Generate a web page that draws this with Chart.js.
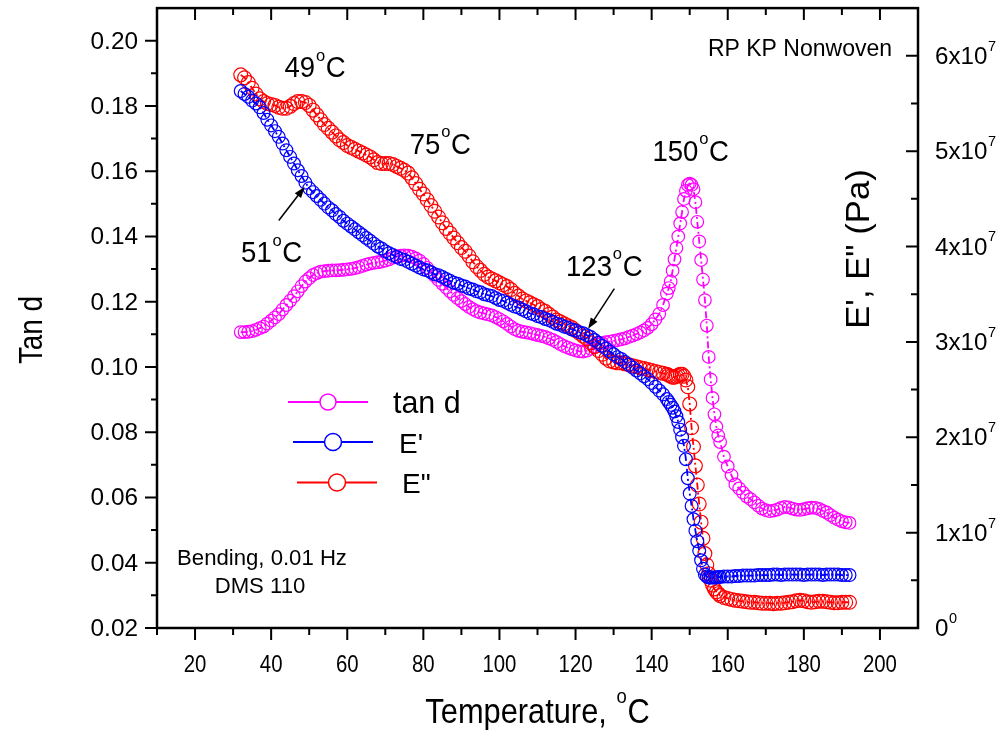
<!DOCTYPE html>
<html>
<head>
<meta charset="utf-8">
<script src="https://cdn.jsdelivr.net/npm/chart.js@4.4.0/dist/chart.umd.min.js"></script>
<style>
  html, body { margin: 0; padding: 0; background: #fff; }
  #c { display: block; }
</style>
</head>
<body>
<canvas id="c" width="1000" height="736"></canvas>
<script>
'use strict';

// temperatures (deg C): 1 deg steps, 0.5 deg steps through the transition
const temps = [
  32,33,34,35,36,37,38,39,40,41, 42,43,44,45,46,47,48,49,50,51,
  52,53,54,55,56,57,58,59,60,61, 62,63,64,65,66,67,68,69,70,71,
  72,73,74,75,76,77,78,79,80,81, 82,83,84,85,86,87,88,89,90,91,
  92,93,94,95,96,97,98,99,100,101, 102,103,104,105,106,107,108,109,110,111,
  112,113,114,115,116,117,118,119,120,121, 122,123,124,125,126,127,128,129,130,131,
  132,133,134,135,136,137,138,139,140,141, 142,143,144,
  144.5,145,145.5,146,146.5,147,147.5,148,148.5,149,
  149.5,150,150.5,151,151.5,152,152.5,153,153.5,154,
  154.5,155,155.5,156,156.5,157,157.5,158,
  159,160,161,162,163,164,165,166,167,168, 169,170,171,172,173,174,175,176,177,178,
  179,180,181,182,183,184,185,186,187,188, 189,190,191,192
];

const tanD = [
  0.1107,0.1107,0.1108,0.1110,0.1114,0.1119,0.1124,0.1133,0.1142,0.1152,
  0.1162,0.1176,0.1190,0.1203,0.1217,0.1232,0.1248,0.1262,0.1272,0.1282,
  0.1288,0.1292,0.1294,0.1295,0.1296,0.1296,0.1297,0.1298,0.1299,0.1301,
  0.1303,0.1306,0.1310,0.1314,0.1317,0.1319,0.1321,0.1323,0.1326,0.1330,
  0.1335,0.1339,0.1341,0.1342,0.1341,0.1338,0.1333,0.1326,0.1316,0.1304,
  0.1291,0.1279,0.1267,0.1255,0.1243,0.1232,0.1221,0.1211,0.1202,0.1193,
  0.1184,0.1177,0.1171,0.1167,0.1164,0.1161,0.1158,0.1153,0.1147,0.1140,
  0.1132,0.1124,0.1116,0.1111,0.1108,0.1106,0.1104,0.1101,0.1098,0.1095,
  0.1092,0.1088,0.1083,0.1077,0.1070,0.1064,0.1059,0.1055,0.1051,0.1048,
  0.1047,0.1050,0.1056,0.1063,0.1069,0.1073,0.1076,0.1078,0.1080,0.1082,
  0.1085,0.1088,0.1092,0.1096,0.1101,0.1106,0.1112,0.1120,0.1131,0.1146,
  0.1163,0.1190,0.1225,
  0.1242,0.1262,0.1295,0.1330,0.1365,0.1400,0.1440,0.1475,0.1515,0.1540,
  0.1558,0.1562,0.1558,0.1545,0.1505,0.1445,0.1385,0.1328,0.1268,0.1205,
  0.1127,0.1031,0.0962,0.0905,0.0855,0.0817,0.0790,0.0770,
  0.0725,0.0695,0.0668,0.0640,0.0628,0.0615,0.0603,0.0595,0.0585,0.0575,
  0.0566,0.0561,0.0558,0.0560,0.0563,0.0568,0.0571,0.0570,0.0566,0.0563,
  0.0562,0.0564,0.0567,0.0569,0.0568,0.0565,0.0559,0.0554,0.0546,0.0538,
  0.0532,0.0527,0.0524,0.0522
];

// E' and E'' in units of 10^7 Pa
const eStorage = [
  5.63,5.60,5.57,5.53,5.50,5.46,5.40,5.33,5.27,5.21,
  5.15,5.08,5.01,4.94,4.87,4.80,4.74,4.67,4.61,4.57,
  4.53,4.49,4.45,4.41,4.38,4.34,4.31,4.27,4.24,4.21,
  4.18,4.15,4.12,4.09,4.06,4.03,4.00,3.98,3.95,3.93,
  3.91,3.89,3.87,3.86,3.84,3.82,3.80,3.78,3.76,3.75,
  3.73,3.71,3.70,3.68,3.66,3.64,3.62,3.61,3.59,3.58,
  3.56,3.55,3.53,3.52,3.50,3.49,3.48,3.46,3.44,3.43,
  3.41,3.39,3.37,3.36,3.34,3.32,3.30,3.29,3.27,3.26,
  3.24,3.23,3.21,3.19,3.18,3.16,3.15,3.13,3.12,3.10,
  3.09,3.07,3.05,3.02,2.99,2.96,2.93,2.90,2.87,2.84,
  2.82,2.79,2.76,2.73,2.70,2.67,2.64,2.61,2.57,2.53,
  2.49,2.45,2.40,
  2.37,2.34,2.31,2.27,2.22,2.16,2.08,2.00,1.91,1.77,
  1.57,1.41,1.28,1.14,1.02,0.91,0.81,0.71,0.62,0.56,
  0.54,0.53,0.53,0.53,0.53,0.53,0.535,0.535,
  0.54,0.54,0.54,0.545,0.545,0.55,0.55,0.55,0.55,0.555,
  0.555,0.555,0.555,0.56,0.56,0.555,0.56,0.56,0.56,0.56,
  0.56,0.555,0.56,0.56,0.56,0.56,0.555,0.56,0.56,0.56,
  0.56,0.555,0.555,0.555
];

const eLoss = [
  5.80,5.77,5.72,5.66,5.60,5.55,5.52,5.50,5.49,5.48,
  5.46,5.45,5.45,5.47,5.50,5.52,5.52,5.51,5.48,5.43,
  5.38,5.33,5.28,5.24,5.20,5.16,5.12,5.09,5.06,5.04,
  5.02,5.00,4.98,4.96,4.94,4.91,4.88,4.87,4.87,4.87,
  4.86,4.84,4.82,4.80,4.77,4.72,4.66,4.60,4.55,4.49,
  4.43,4.37,4.31,4.25,4.19,4.14,4.09,4.04,3.99,3.95,
  3.90,3.84,3.79,3.75,3.71,3.68,3.66,3.64,3.62,3.60,
  3.58,3.55,3.51,3.48,3.45,3.43,3.41,3.39,3.37,3.34,
  3.32,3.29,3.26,3.23,3.21,3.19,3.17,3.15,3.12,3.09,
  3.06,3.03,2.99,2.95,2.91,2.87,2.83,2.80,2.79,2.78,
  2.78,2.77,2.76,2.75,2.74,2.73,2.72,2.71,2.70,2.69,
  2.68,2.67,2.66,
  2.65,2.64,2.63,2.63,2.64,2.65,2.66,2.66,2.64,2.60,
  2.53,2.35,2.10,1.90,1.70,1.50,1.30,1.11,0.94,0.78,
  0.66,0.57,0.50,0.45,0.41,0.38,0.36,0.34,
  0.32,0.31,0.30,0.29,0.285,0.28,0.275,0.27,0.27,0.265,
  0.26,0.26,0.26,0.255,0.26,0.26,0.265,0.27,0.275,0.285,
  0.29,0.285,0.275,0.27,0.275,0.28,0.28,0.275,0.27,0.265,
  0.265,0.27,0.27,0.27
];

const xTicks = [20, 40, 60, 80, 100, 120, 140, 160, 180, 200];
const tanTicks = [0.02, 0.04, 0.06, 0.08, 0.10, 0.12, 0.14, 0.16, 0.18, 0.20];
const eTicks = [0, 1, 2, 3, 4, 5, 6];

// peak labels: [T, tan d, number]
const peakNotes = [[43.5, 0.1888, '49'], [76.4, 0.1654, '75'], [140.2, 0.1632, '150'],
                   [32.1, 0.1321, '51'], [117.5, 0.1280, '123']];
// arrows: [T1, tan1, T2, tan2] tail -> head
const arrows = [[42.0, 0.1449, 48.8, 0.1552], [130.2, 0.1240, 123.3, 0.1117]];

const FONT = '"Liberation Sans", Arial, Helvetica, sans-serif';
const MAGENTA = '#ff00ff', BLUE = '#0000ff', RED = '#ff0000';

const pts = vals => temps.map((t, i) => ({x: t, y: vals[i]}));

function rich(ctx, parts, x, y, size, align, sx) {
  sx = sx || 1;
  const sup = size * 0.6;
  const widths = parts.map(p => {
    ctx.font = (p[1] ? sup : size) + 'px ' + FONT;
    return ctx.measureText(p[0]).width * sx + (p[1] ? size * 0.05 : 0);
  });
  const total = widths.reduce((a, b) => a + b, 0);
  let cx = align === 'center' ? x - total / 2 : align === 'right' ? x - total : x;
  parts.forEach((p, i) => {
    ctx.save();
    ctx.font = (p[1] ? sup : size) + 'px ' + FONT;
    ctx.translate(cx + (p[1] ? size * 0.03 : 0), p[1] ? y - size * 0.57 : y);
    ctx.scale(sx, 1);
    ctx.textAlign = 'left';
    ctx.textBaseline = 'alphabetic';
    ctx.fillStyle = '#000';
    ctx.fillText(p[0], 0, 0);
    ctx.restore();
    cx += widths[i];
  });
}

function arrow(ctx, x1, y1, x2, y2) {
  const a = Math.atan2(y2 - y1, x2 - x1);
  ctx.save();
  ctx.strokeStyle = '#000';
  ctx.fillStyle = '#000';
  ctx.lineWidth = 1.5;
  ctx.beginPath();
  ctx.moveTo(x1, y1);
  ctx.lineTo(x2 - 8 * Math.cos(a), y2 - 8 * Math.sin(a));
  ctx.stroke();
  ctx.beginPath();
  ctx.moveTo(x2, y2);
  ctx.lineTo(x2 - 11 * Math.cos(a) + 4 * Math.sin(a), y2 - 11 * Math.sin(a) - 4 * Math.cos(a));
  ctx.lineTo(x2 - 11 * Math.cos(a) - 4 * Math.sin(a), y2 - 11 * Math.sin(a) + 4 * Math.cos(a));
  ctx.closePath();
  ctx.fill();
  ctx.restore();
}

const decor = {
  id: 'decor',
  afterDraw(chart) {
    const ctx = chart.ctx;
    const {left, right, top, bottom} = chart.chartArea;
    const sx = chart.scales.x, sy = chart.scales.y, se = chart.scales.yE;

    ctx.save();
    ctx.strokeStyle = '#000';
    // ticks
    ctx.lineWidth = 2;
    ctx.beginPath();
    xTicks.forEach(v => {
      const px = sx.getPixelForValue(v);
      ctx.moveTo(px, bottom); ctx.lineTo(px, bottom + 12);
      ctx.moveTo(px, top); ctx.lineTo(px, top + 12);
      const pm = sx.getPixelForValue(v + 10);
      if (v + 10 < 210) {
        ctx.moveTo(pm, bottom); ctx.lineTo(pm, bottom + 7);
        ctx.moveTo(pm, top); ctx.lineTo(pm, top + 7);
      }
    });
    const p10 = sx.getPixelForValue(10);
    ctx.moveTo(p10, bottom); ctx.lineTo(p10, bottom + 7);
    tanTicks.forEach(v => {
      const py = sy.getPixelForValue(v);
      ctx.moveTo(left, py); ctx.lineTo(left - 12, py);
      const pm = sy.getPixelForValue(v + 0.01);
      if (v + 0.01 < 0.205) { ctx.moveTo(left, pm); ctx.lineTo(left - 6, pm); }
    });
    eTicks.forEach(v => {
      const py = se.getPixelForValue(v);
      ctx.moveTo(right, py); ctx.lineTo(right - 12, py);
      const pm = se.getPixelForValue(v + 0.5);
      ctx.moveTo(right, pm); ctx.lineTo(right - 7, pm);
    });
    ctx.stroke();
    // frame
    ctx.lineWidth = 2.5;
    ctx.strokeRect(left, top, right - left, bottom - top);
    ctx.restore();

    // tick labels
    xTicks.forEach(v => rich(ctx, [[String(v), 0]], sx.getPixelForValue(v), 672, 24, 'center', 0.85));
    tanTicks.forEach(v => rich(ctx, [[v.toFixed(2), 0]], left - 19, sy.getPixelForValue(v) + 8, 23, 'right', 1.06));
    eTicks.forEach(v => {
      const py = se.getPixelForValue(v) + 8;
      if (v === 0) rich(ctx, [['0', 0], ['0', 1]], right + 17, py, 23, 'left', 1.05);
      else rich(ctx, [[v + 'x10', 0], ['7', 1]], right + 17, py, 23, 'left', 1.05);
    });

    // axis titles
    rich(ctx, [['Temperature, ', 0], ['o', 1], ['C', 0]], (left + right) / 2, 723, 35, 'center', 0.88);
    ctx.save();
    ctx.translate(42, 330);
    ctx.rotate(-Math.PI / 2);
    rich(ctx, [['Tan d', 0]], 0, 0, 34, 'center', 0.82);
    ctx.restore();
    ctx.save();
    ctx.translate(869, 249);
    ctx.rotate(-Math.PI / 2);
    rich(ctx, [['E\', E" (Pa)', 0]], 0, 0, 33, 'center', 1.05);
    ctx.restore();

    // notes
    rich(ctx, [['RP KP Nonwoven', 0]], 892, 56, 23, 'right', 1.0);
    rich(ctx, [['Bending, 0.01 Hz', 0]], 262, 565, 21.5, 'center', 1.03);
    rich(ctx, [['DMS 110', 0]], 260, 593, 21.5, 'center', 1.03);
    peakNotes.forEach(n => rich(ctx, [[n[2], 0], ['o', 1], ['C', 0]],
      sx.getPixelForValue(n[0]), sy.getPixelForValue(n[1]), 29, 'left', 0.95));
    arrows.forEach(a => arrow(ctx, sx.getPixelForValue(a[0]), sy.getPixelForValue(a[1]),
      sx.getPixelForValue(a[2]), sy.getPixelForValue(a[3])));

    // legend
    const rows = [
      {c: MAGENTA, x: 288, y: 402, r: 8, t: 'tan d', tx: 393, ty: 413, fs: 32, fx: 0.95},
      {c: BLUE, x: 293, y: 442, r: 8.5, t: 'E\'', tx: 399, ty: 452.5, fs: 28, fx: 1},
      {c: RED, x: 297, y: 482.5, r: 8.5, t: 'E"', tx: 402, ty: 492.5, fs: 28, fx: 1}
    ];
    rows.forEach(r => {
      ctx.save();
      ctx.strokeStyle = r.c;
      ctx.lineWidth = 2;
      ctx.beginPath();
      ctx.moveTo(r.x, r.y); ctx.lineTo(r.x + 80, r.y);
      ctx.stroke();
      ctx.fillStyle = '#fff';
      ctx.lineWidth = 1.5;
      ctx.beginPath();
      ctx.arc(r.x + 40, r.y, r.r, 0, Math.PI * 2);
      ctx.fill();
      ctx.stroke();
      ctx.restore();
      rich(ctx, [[r.t, 0]], r.tx, r.ty, r.fs, 'left', r.fx);
    });
  }
};

const series = (label, vals, color, axis, radius, order) => ({
  label: label,
  data: pts(vals),
  yAxisID: axis,
  showLine: true,
  borderColor: color,
  borderWidth: 1.8,
  borderDash: [7, 3, 2, 3],
  pointRadius: radius,
  pointBorderWidth: 1.2,
  pointBorderColor: color,
  pointBackgroundColor: 'rgba(0,0,0,0)',
  tension: 0,
  order: order
});

new Chart(document.getElementById('c'), {
  type: 'scatter',
  data: {
    datasets: [
      series('tan d', tanD, MAGENTA, 'y', 6.3, 3),
      series("E'", eStorage, BLUE, 'yE', 6.4, 1),
      series('E"', eLoss, RED, 'yE', 6.9, 2)
    ]
  },
  options: {
    responsive: false,
    animation: false,
    devicePixelRatio: 1,
    layout: { padding: { top: 7 } },
    plugins: { legend: { display: false }, tooltip: { enabled: false } },
    scales: {
      x: {
        type: 'linear', min: 10, max: 210,
        grid: { display: false, drawTicks: false }, border: { display: false },
        ticks: { display: false },
        afterBuildTicks: s => { s.ticks = xTicks.map(v => ({ value: v })); },
        afterFit: s => { s.height = 108; }
      },
      y: {
        type: 'linear', position: 'left', min: 0.02, max: 0.21,
        grid: { display: false, drawTicks: false }, border: { display: false },
        ticks: { display: false },
        afterBuildTicks: s => { s.ticks = tanTicks.map(v => ({ value: v })); },
        afterFit: s => { s.width = 157; }
      },
      yE: {
        type: 'linear', position: 'right', min: 0, max: 6.5,
        grid: { display: false, drawTicks: false }, border: { display: false },
        ticks: { display: false },
        afterBuildTicks: s => { s.ticks = eTicks.map(v => ({ value: v })); },
        afterFit: s => { s.width = 82; }
      }
    }
  },
  plugins: [decor]
});
</script>
</body>
</html>
